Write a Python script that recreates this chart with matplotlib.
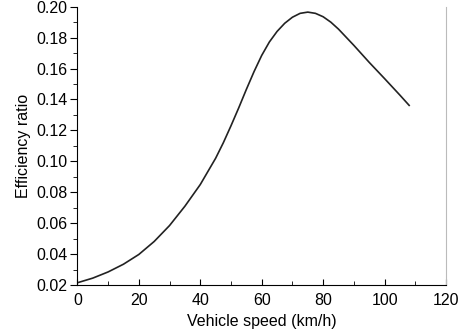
import matplotlib.pyplot as plt
import numpy as np

plt.rcParams['font.family'] = ['Liberation Sans', 'DejaVu Sans']

# values
speed = [0, 5, 10, 15, 20, 25, 30, 35, 40, 45, 47.5, 50, 52.5, 55, 57.5, 60, 62.5, 65, 67.5, 70,
         72.5, 75, 77.5, 80, 82.5, 85, 90, 95, 100, 105, 108]
ratio = [0.0215, 0.0245, 0.0285, 0.0335, 0.0398, 0.0482, 0.0585, 0.0710, 0.0850, 0.1020, 0.1120,
         0.1230, 0.1345, 0.1465, 0.1580, 0.1685, 0.1772, 0.1840, 0.1893, 0.1932,
         0.1957, 0.1965, 0.1957, 0.1935, 0.1900, 0.1855, 0.1750, 0.1640, 0.1535, 0.1428, 0.1362]

fig = plt.figure(figsize=(4.69, 3.35), dpi=100)
ax = fig.add_axes([0.165, 0.149, 0.786, 0.831])

ax.plot(speed, ratio, color="#222222", lw=1.2)

ax.set_xlim(0, 120)
ax.set_ylim(0.02, 0.20)
ax.set_xticks(np.arange(0, 121, 20))
ax.set_xticks(np.arange(0, 121, 10), minor=True)
ax.set_yticks(np.arange(0.02, 0.201, 0.02))
ax.set_yticks(np.arange(0.02, 0.201, 0.01), minor=True)
ax.set_yticklabels([f"{v:.2f}" for v in np.arange(0.02, 0.201, 0.02)])

ax.spines["top"].set_visible(False)
ax.spines["right"].set_color("#bbbbbb")

ax.tick_params(axis="y", which="major", direction="out", length=5, labelsize=11.5, pad=2)
ax.tick_params(axis="y", which="minor", direction="out", length=3)
ax.tick_params(axis="x", which="major", direction="in", length=4, labelsize=11.5, pad=6)
ax.tick_params(axis="x", which="minor", direction="in", length=3)

ax.set_xlabel("Vehicle speed (km/h)", fontsize=11.5, labelpad=4)
ax.set_ylabel("Efficiency ratio", fontsize=11.5, labelpad=4)

fig.savefig("out.png", dpi=100)
